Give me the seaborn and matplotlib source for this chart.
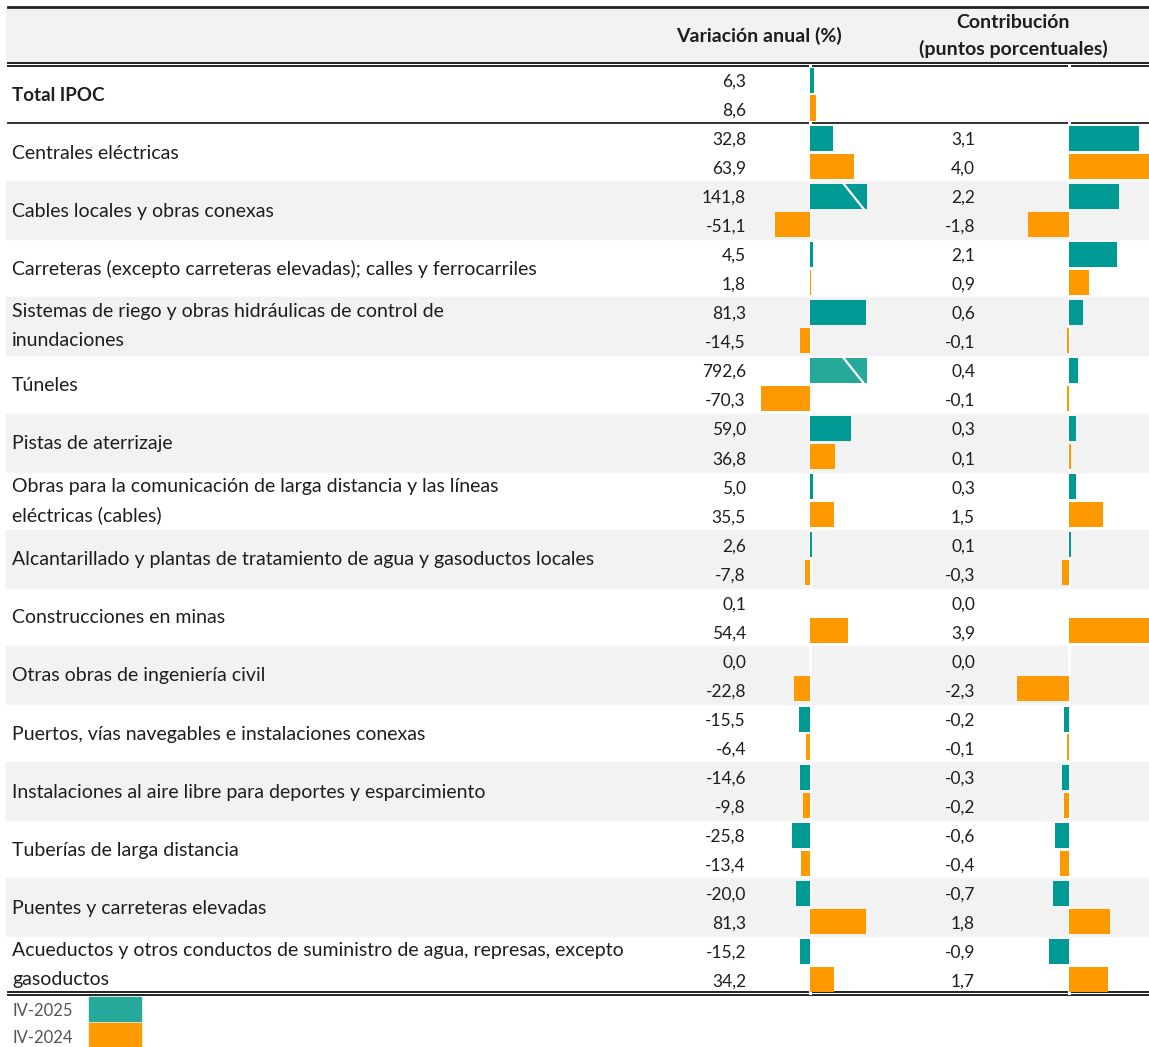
import matplotlib
matplotlib.use("Agg")
import matplotlib.pyplot as plt
import matplotlib.patches as mpatches
import matplotlib.transforms as mtransforms
import seaborn as sns
import pandas as pd
import numpy as np

# ---------------- data ----------------
categorias = [
    "Total IPOC",
    "Centrales eléctricas",
    "Cables locales y obras conexas",
    "Carreteras (excepto carreteras elevadas); calles y ferrocarriles",
    "Sistemas de riego y obras hidráulicas de control de\ninundaciones",
    "Túneles",
    "Pistas de aterrizaje",
    "Obras para la comunicación de larga distancia y las líneas\neléctricas (cables)",
    "Alcantarillado y plantas de tratamiento de agua y gasoductos locales",
    "Construcciones en minas",
    "Otras obras de ingeniería civil",
    "Puertos, vías navegables e instalaciones conexas",
    "Instalaciones al aire libre para deportes y esparcimiento",
    "Tuberías de larga distancia",
    "Puentes y carreteras elevadas",
    "Acueductos y otros conductos de suministro de agua, represas, excepto\ngasoductos",
]
periodos = ["IV-2025", "IV-2024"]

var_2025 = [6.3, 32.8, 141.8, 4.5, 81.3, 792.6, 59.0, 5.0, 2.6, 0.1, 0.0, -15.5, -14.6, -25.8, -20.0, -15.2]
var_2024 = [8.6, 63.9, -51.1, 1.8, -14.5, -70.3, 36.8, 35.5, -7.8, 54.4, -22.8, -6.4, -9.8, -13.4, 81.3, 34.2]
con_2025 = [np.nan, 3.1, 2.2, 2.1, 0.6, 0.4, 0.3, 0.3, 0.1, 0.0, 0.0, -0.2, -0.3, -0.6, -0.7, -0.9]
con_2024 = [np.nan, 4.0, -1.8, 0.9, -0.1, -0.1, 0.1, 1.5, -0.3, 3.9, -2.3, -0.1, -0.2, -0.4, 1.8, 1.7]

header_var = "Variación anual (%)"
header_con = "Contribución\n(puntos porcentuales)"

# ---------------- style ----------------
TEAL = "#009A94"
TEAL_LIGHT = "#26A89B"
ORANGE = "#FF9900"
GRAY = "#F2F2F2"
TXT = "#1E1E1E"

plt.rcParams["font.family"] = ["Lato", "DejaVu Sans"]
FS_LAB = 14.0
FS_NUM = 12.5
FS_HEAD = 14.0

W, H = 1149, 1047
fig = plt.figure(figsize=(W / 100, H / 100), dpi=100)
fig.patch.set_facecolor("white")

bg = fig.add_axes([0, 0, 1, 1])
bg.set_xlim(0, W)
bg.set_ylim(H, 0)
bg.axis("off")

TOP, BOT = 65.0, 994.5
n = len(categorias)
rowh = (BOT - TOP) / n


def rect(x0, x1, y0, y1):
    return [x0 / W, 1 - y1 / H, (x1 - x0) / W, (y1 - y0) / H]


# header band
bg.add_patch(mpatches.Rectangle((6, 9), W - 6, 53, color=GRAY, zorder=0))
# row shading
for i in range(n):
    if i >= 2 and i % 2 == 0:
        bg.add_patch(mpatches.Rectangle((6, TOP + i * rowh), W - 6, rowh, color=GRAY, zorder=0))

# rules
LX0 = 8
bg.plot([LX0, W], [6.5, 6.5], color="#222222", lw=2.0)
bg.plot([LX0, W], [62.5, 62.5], color="#222222", lw=1.4)
bg.plot([LX0, W], [65.8, 65.8], color="#222222", lw=1.4)
bg.plot([LX0, W], [122.8, 122.8], color="#222222", lw=1.3)
bg.plot([LX0, W], [991.5, 991.5], color="#222222", lw=1.4)
bg.plot([LX0, W], [994.8, 994.8], color="#222222", lw=1.4)

# headers
bg.text(759, 36, header_var, ha="center", va="center", fontsize=FS_HEAD, fontweight="bold", color=TXT)
h1, h2 = header_con.split("\n")
bg.text(1013, 23, h1, ha="center", va="center", fontsize=FS_HEAD, fontweight="bold", color=TXT)
bg.text(1013, 49, h2, ha="center", va="center", fontsize=FS_HEAD, fontweight="bold", color=TXT)


def fmt(v):
    return f"{v:.1f}".replace(".", ",")


for i, cat in enumerate(categorias):
    yc = TOP + (i + 0.5) * rowh
    ya, yb = yc - rowh / 4, yc + rowh / 4
    lines = cat.split("\n")
    if len(lines) == 1:
        if i == 0:
            bg.text(12, yc + 1, cat, ha="left", va="center", fontsize=13.5, color=TXT,
                    fontweight="bold")
        else:
            bg.text(12, yc + 1, cat, ha="left", va="center", fontsize=FS_LAB, color=TXT)
    else:
        bg.text(12, ya, lines[0], ha="left", va="center", fontsize=FS_LAB, color=TXT)
        bg.text(12, yb, lines[1], ha="left", va="center", fontsize=FS_LAB, color=TXT)
    bg.text(746, ya + 2, fmt(var_2025[i]), ha="right", va="center", fontsize=FS_NUM, color=TXT)
    bg.text(746, yb + 2, fmt(var_2024[i]), ha="right", va="center", fontsize=FS_NUM, color=TXT)
    if not np.isnan(con_2025[i]):
        bg.text(975, ya + 2, fmt(con_2025[i]), ha="right", va="center", fontsize=FS_NUM, color=TXT)
        bg.text(975, yb + 2, fmt(con_2024[i]), ha="right", va="center", fontsize=FS_NUM, color=TXT)

# ---------------- data frame ----------------
df = pd.DataFrame({
    "categoria": categorias * 2,
    "periodo": [periodos[0]] * n + [periodos[1]] * n,
    "variacion": var_2025 + var_2024,
    "contribucion": con_2025 + con_2024,
})
pal = {periodos[0]: TEAL, periodos[1]: ORANGE}

# variation axes: zero at x=810 px, 0.69 px per unit
PXV = 0.69
VMIN, VMAX = -80, 82
ax1 = fig.add_axes(rect(810 + VMIN * PXV, 810 + VMAX * PXV, TOP, BOT))
# contribution axes: zero at x=1069 px, 22.7 px per unit
PXC = 22.7
CMIN = -2.6
CMAX = (W - 1069) / PXC
ax2 = fig.add_axes(rect(1069 + CMIN * PXC, W, TOP, BOT))

for ax, col, (lo, hi) in [(ax1, "variacion", (VMIN, VMAX)), (ax2, "contribucion", (CMIN, CMAX))]:
    ax.patch.set_alpha(0)
    ax.axvline(0, color="white", lw=2.2, zorder=0)
    sns.barplot(data=df, y="categoria", x=col, hue="periodo", order=categorias,
                hue_order=periodos, palette=pal, saturation=1, width=0.96, gap=0.1,
                linewidth=0, errorbar=None, legend=False, ax=ax, zorder=2)
    ax.set_xlim(lo, hi)
    ax.set_ylim(n - 0.5, -0.5)
    ax.axis("off")

# broken-bar markers for values beyond the variation scale
blend = mtransforms.blended_transform_factory(ax1.transAxes, ax1.transData)
axw = (VMAX - VMIN) * PXV
for p in ax1.patches:
    if not isinstance(p, mpatches.Rectangle):
        continue
    w = p.get_width()
    if w > VMAX:
        if w > 500:
            p.set_facecolor(TEAL_LIGHT)
        y0, h = p.get_y(), p.get_height()
        ax1.plot([1 - 23 / axw, 1 - 3 / axw], [y0, y0 + h], transform=blend,
                 color="white", lw=1.6, zorder=5, clip_on=False)

# legend
bg.add_patch(mpatches.Rectangle((89, 996.5), 52, 24, color=TEAL_LIGHT))
bg.add_patch(mpatches.Rectangle((89, 1022.5), 52, 24, color=ORANGE))
bg.text(12, 1011, periodos[0], ha="left", va="center", fontsize=12, color="#555555")
bg.text(12, 1038, periodos[1], ha="left", va="center", fontsize=12, color="#555555")

fig.savefig("out.png", dpi=100)
